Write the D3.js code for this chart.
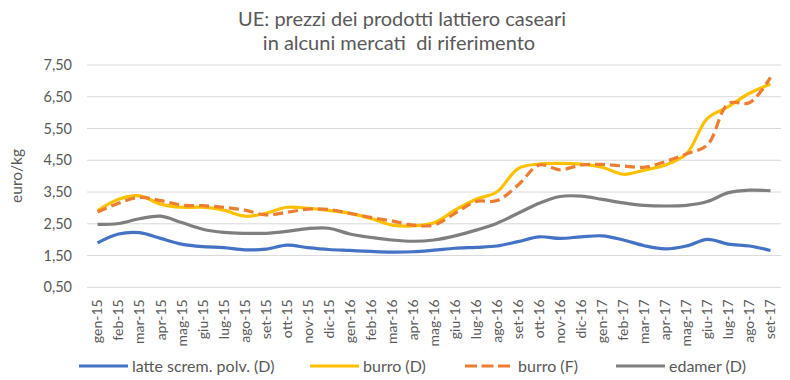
<!DOCTYPE html>
<html><head><meta charset="utf-8">
<script src="https://cdn.jsdelivr.net/npm/d3@7/dist/d3.min.js"></script>
<style>body{margin:0;background:#fff}svg{display:block}text{font-family:Lato,"Open Sans",sans-serif;fill:#595959}</style>
</head><body><svg id="c" width="790" height="380"></svg>
<script>
const months = ["gen-15","feb-15","mar-15","apr-15","mag-15","giu-15","lug-15","ago-15","set-15","ott-15","nov-15","dic-15",
"gen-16","feb-16","mar-16","apr-16","mag-16","giu-16","lug-16","ago-16","set-16","ott-16","nov-16","dic-16",
"gen-17","feb-17","mar-17","apr-17","mag-17","giu-17","lug-17","ago-17","set-17"];
const latte = [1.90,2.18,2.22,2.04,1.86,1.78,1.75,1.68,1.70,1.83,1.75,1.69,1.66,1.63,1.61,1.62,1.67,1.73,1.76,1.80,1.94,2.09,2.04,2.09,2.12,1.99,1.81,1.71,1.80,2.01,1.86,1.80,1.66];
const burroD = [2.91,3.27,3.38,3.12,3.02,3.02,2.93,2.74,2.83,3.02,2.99,2.92,2.83,2.67,2.46,2.43,2.53,2.93,3.27,3.51,4.24,4.38,4.40,4.38,4.28,4.06,4.19,4.35,4.70,5.82,6.19,6.61,6.90];
const burroF = [2.87,3.15,3.33,3.23,3.09,3.07,3.02,2.93,2.78,2.86,2.96,2.95,2.83,2.70,2.59,2.46,2.46,2.83,3.20,3.23,3.72,4.35,4.20,4.35,4.37,4.32,4.28,4.46,4.70,4.98,6.29,6.31,7.11];
const edamer = [2.48,2.51,2.66,2.74,2.54,2.33,2.23,2.20,2.20,2.26,2.35,2.36,2.18,2.07,1.99,1.95,1.99,2.12,2.30,2.52,2.83,3.15,3.36,3.37,3.27,3.16,3.08,3.06,3.08,3.20,3.48,3.56,3.54];
const yTicks = [0.5,1.5,2.5,3.5,4.5,5.5,6.5,7.5];
const titleLines = ["UE: prezzi dei prodotti lattiero caseari","in alcuni mercati  di riferimento"];
const yLabel = "euro/kg";
const seriesNames = ["latte screm. polv. (D)","burro (D)","burro (F)","edamer (D)"];

const svg = d3.select("#c");
const pLeft = 87, pRight = 781, pTop = 65, pBottom = 287.3;
const x = d3.scaleBand().domain(months).range([pLeft, pRight]);
const y = d3.scaleLinear().domain([0.5, 7.5]).range([pBottom, pTop]);
const fmt = v => d3.format(".2f")(v).replace(".", ",");

// gridlines
svg.append("g").selectAll("line").data(yTicks).join("line")
  .attr("x1", pLeft).attr("x2", pRight)
  .attr("y1", d => y(d)).attr("y2", d => y(d))
  .attr("stroke", "#d9d9d9").attr("stroke-width", 1);

// y axis labels
const yAxis = d3.axisLeft(y).tickValues(yTicks).tickFormat(fmt).tickSize(0).tickPadding(0);
const ya = svg.append("g").attr("transform", `translate(${pLeft - 15},0)`).call(yAxis);
ya.select(".domain").remove();
ya.selectAll("text").style("font-family", "Lato, sans-serif").style("font-size", "14.5px").attr("fill", "#595959");

// x axis labels
const xAxis = d3.axisBottom(x).tickSize(0).tickPadding(0);
const xa = svg.append("g").attr("transform", `translate(0,${pBottom})`).call(xAxis);
xa.select(".domain").remove();
xa.selectAll("text").style("font-family", "Lato, sans-serif").style("font-size", "14px").attr("fill", "#595959")
  .attr("transform", "rotate(-90)").attr("text-anchor", "end").attr("x", -12).attr("y", 0).attr("dy", "0.35em");

// lines
const series = [
  {name: seriesNames[0], values: latte, color: "#4472C4", dash: null},
  {name: seriesNames[1], values: burroD, color: "#FFC000", dash: null},
  {name: seriesNames[2], values: burroF, color: "#ED7D31", dash: "10,5"},
  {name: seriesNames[3], values: edamer, color: "#7F7F7F", dash: null}
];
const line = d3.line().x((d, i) => x(months[i]) + x.bandwidth() / 2).y(d => y(d)).curve(d3.curveCatmullRom.alpha(0.5));
svg.append("g").selectAll("path").data(series).join("path")
  .attr("d", d => line(d.values)).attr("fill", "none")
  .attr("stroke", d => d.color).attr("stroke-width", 3.2)
  .attr("stroke-dasharray", d => d.dash).attr("stroke-linejoin", "round");

// title
svg.append("text").attr("x", 402).attr("y", 26).attr("text-anchor", "middle").style("font-size", "20px").style("white-space", "pre").text(titleLines[0]);
svg.append("text").attr("x", 399).attr("y", 50).attr("text-anchor", "middle").style("font-size", "20px").style("white-space", "pre").text(titleLines[1]);

// y label
svg.append("text").attr("transform", "translate(22,176) rotate(-90)").attr("text-anchor", "middle").style("font-size", "15.5px").text(yLabel);

// legend
const legX = [79, 310, 465, 616];
const lg = svg.append("g").selectAll("g").data(series).join("g")
  .attr("transform", (d, i) => `translate(${legX[i]},366)`);
lg.append("line").attr("x1", 0).attr("x2", 49).attr("y1", 0).attr("y2", 0)
  .attr("stroke", d => d.color).attr("stroke-width", 3.2).attr("stroke-dasharray", d => d.dash ? "12,4.5" : null);
lg.append("text").attr("x", 53).attr("y", 0).attr("dy", "0.35em").style("font-size", "16px").text(d => d.name);
</script></body></html>
